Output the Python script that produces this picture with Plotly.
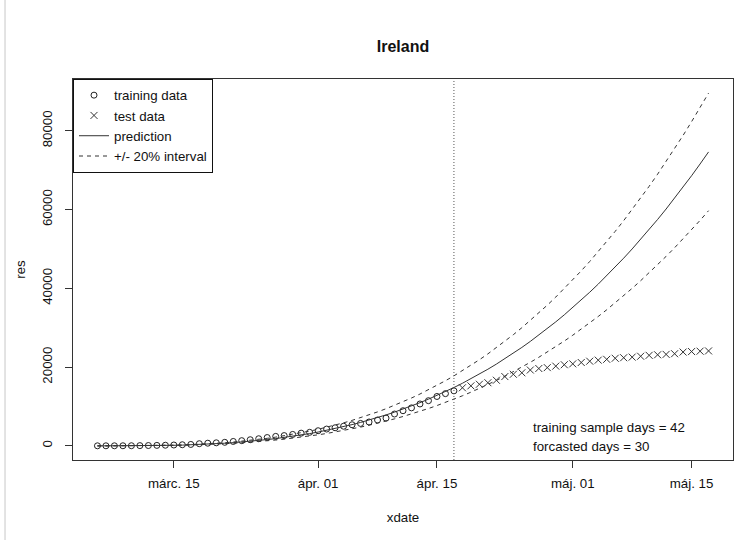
import pandas as pd
import plotly.graph_objects as go

# Cumulative confirmed cases, Ireland
train_start = "2020-03-06"
train_cases = [19, 21, 24, 34, 43, 70, 90, 129, 169, 223, 292, 366, 557, 683,
               785, 906, 1125, 1329, 1564, 1819, 2121, 2415, 2615, 2910, 3235,
               3447, 3849, 4273, 4604, 4994, 5364, 5709, 6074, 6574, 7054, 8089,
               8928, 9655, 10647, 11479, 12547, 13271, 13980]
test_cases = [14758, 15251, 15652, 16040, 16671, 17607, 18184, 18561, 19262,
              19648, 19877, 20253, 20612, 20833, 21176, 21506, 21772, 21983,
              22248, 22385, 22541, 22760, 22996, 23135, 23242, 23401, 23827,
              23956, 24048, 24112]
prediction = [0, 0, 2, 5, 13, 25, 43, 69, 102, 146, 200, 266, 346, 439, 549,
              675, 819, 983, 1166, 1372, 1600, 1852, 2130, 2433, 2765, 3125,
              3515, 3937, 4390, 4878, 5400, 5958, 6554, 7187, 7861, 8575, 9331,
              10131, 10974, 11864, 12800, 13784, 14818, 15901, 17037, 18225,
              19467, 20765, 22118, 23530, 25000, 26530, 28122, 29775, 31493,
              33275, 35123, 37039, 39022, 41076, 43200, 45396, 47666, 50009,
              52429, 54925, 57499, 60153, 62886, 65702, 68600, 71582, 74650]
interval = 0.20  # +/- 20% band around the prediction

x_tick_dates = ["2020-03-15", "2020-04-01", "2020-04-15", "2020-05-01", "2020-05-15"]
x_tick_text = ["márc. 15", "ápr. 01", "ápr. 15", "máj. 01", "máj. 15"]
y_tick_vals = [0, 20000, 40000, 60000, 80000]
y_tick_text = ["0", "20000", "40000", "60000", "80000"]

train_days_label = 42
forecast_days_label = 30

all_dates = pd.date_range(train_start, periods=len(train_cases) + len(test_cases), freq="D")
train_dates = all_dates[:len(train_cases)]
test_dates = all_dates[len(train_cases):]
upper = [v * (1 + interval) for v in prediction]
lower = [v * (1 - interval) for v in prediction]

FONT = "Liberation Sans, Arial, sans-serif"
INK = "#111111"
LINE = "#333333"
DASH = "4px,4px"

fig = go.Figure()
fig.add_trace(go.Scatter(
    x=train_dates, y=train_cases, mode="markers", name="training data",
    marker=dict(symbol="circle-open", size=6, color="#222222",
                line=dict(width=1, color="#222222")),
    legendrank=1))
fig.add_trace(go.Scatter(
    x=test_dates, y=test_cases, mode="markers", name="test data",
    marker=dict(symbol="x-thin-open", size=7, color="#333333",
                line=dict(width=1, color="#333333")),
    legendrank=2))
fig.add_trace(go.Scatter(
    x=all_dates, y=prediction, mode="lines", name="prediction",
    line=dict(color=LINE, width=1), legendrank=3))
fig.add_trace(go.Scatter(
    x=all_dates, y=upper, mode="lines", name="+/- 20% interval",
    line=dict(color=LINE, width=1, dash=DASH), legendrank=4))
fig.add_trace(go.Scatter(
    x=all_dates, y=lower, mode="lines", name="+/- 20% interval",
    line=dict(color=LINE, width=1, dash=DASH), showlegend=False))

# R-style 4% padding on both axes
x0, x1 = all_dates[0], all_dates[-1]
xpad = (x1 - x0) * 0.04
ymin = min(min(train_cases), min(test_cases), min(lower))
ymax = max(max(train_cases), max(test_cases), max(upper))
ypad = (ymax - ymin) * 0.04

# boundary between training and forecast period
fig.add_shape(type="line", xref="x", yref="paper",
              x0=train_dates[-1], x1=train_dates[-1], y0=0, y1=1,
              line=dict(color="#555555", width=1, dash="1px,2px"))
# outer frame edge on the left
fig.add_shape(type="line", xref="paper", yref="paper",
              x0=-0.103, x1=-0.103, y0=-0.21, y1=1.21,
              line=dict(color="#c8c8c8", width=1))

fig.add_annotation(xref="paper", yref="paper", x=0.694, y=0.084,
                   xanchor="left", yanchor="middle", showarrow=False,
                   text=f"training sample days = {train_days_label}",
                   font=dict(family=FONT, size=13.3, color=INK))
fig.add_annotation(xref="paper", yref="paper", x=0.694, y=0.035,
                   xanchor="left", yanchor="middle", showarrow=False,
                   text=f"forcasted days = {forecast_days_label}",
                   font=dict(family=FONT, size=13.3, color=INK))

axis_common = dict(showline=True, mirror=True, linecolor=LINE, linewidth=1,
                   ticks="outside", ticklen=7, tickcolor=LINE, tickwidth=1,
                   showgrid=False, zeroline=False,
                   tickfont=dict(family=FONT, size=13.3, color=INK))

fig.update_layout(
    width=756, height=540,
    margin=dict(l=73, r=23, t=79, b=80),
    paper_bgcolor="white", plot_bgcolor="white",
    font=dict(family=FONT, size=13.3, color=INK),
    title=dict(text="<b>Ireland</b>", x=0.5, xref="paper", xanchor="center",
               y=1 - 46 / 540, yref="container", yanchor="middle",
               font=dict(family=FONT, size=16, color=INK)),
    xaxis=dict(type="date", range=[x0 - xpad, x1 + xpad],
               tickvals=x_tick_dates, ticktext=x_tick_text,
               ticklabelstandoff=4,
               title=dict(text="xdate", standoff=22,
                          font=dict(family=FONT, size=13.3, color=INK)),
               **axis_common),
    yaxis=dict(range=[ymin - ypad, ymax + ypad],
               tickvals=y_tick_vals, ticktext=y_tick_text, tickangle=-90,
               ticklabelstandoff=8,
               title=dict(text="res", standoff=11,
                          font=dict(family=FONT, size=13.3, color=INK)),
               **axis_common),
    legend=dict(x=0, y=1, xanchor="left", yanchor="top",
                bordercolor=INK, borderwidth=1, bgcolor="white",
                font=dict(family=FONT, size=13.3, color=INK),
                tracegroupgap=0),
    showlegend=True,
)

fig.write_html("out.html")
